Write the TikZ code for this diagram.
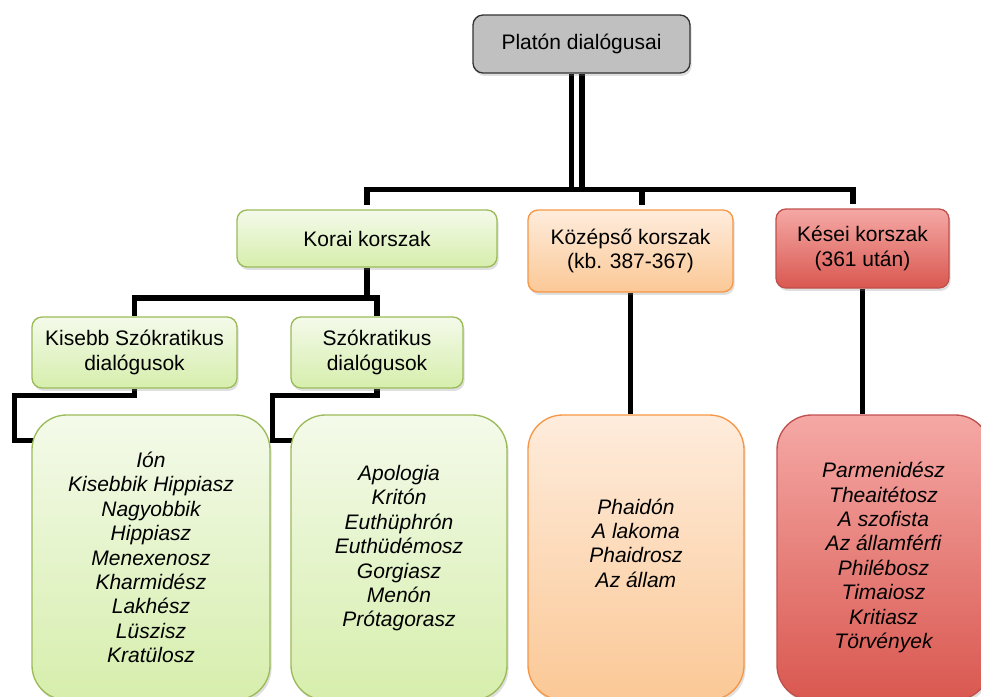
\documentclass[tikz,border=0pt]{standalone}
\usepackage{fontspec}
\setmainfont{Liberation Sans}
\usepackage{tikz}
\usetikzlibrary{calc, shadows, backgrounds}
\definecolor{platoGray}{RGB}{192,192,192}
\definecolor{koraiEdge}{RGB}{155,187,89}
\definecolor{koraiTop}{RGB}{244,250,234}
\definecolor{koraiBot}{RGB}{214,238,172}
\definecolor{kozepEdge}{RGB}{247,150,70}
\definecolor{kozepTop}{RGB}{254,236,220}
\definecolor{kozepBot}{RGB}{251,200,150}
\definecolor{keseiEdge}{RGB}{192,80,77}
\definecolor{keseiTop}{RGB}{245,168,165}
\definecolor{keseiBot}{RGB}{217,88,80}
\tikzset{
  conn/.style={line width=4.1pt, black},
  dblconn/.style={line width=4.2pt, double=white, double distance=3.6pt, black},
  hdbox/.style={rounded corners=7.5pt, line width=1pt, align=center, inner sep=2pt,
    font={\fontsize{15.75}{18.3}\selectfont},
    drop shadow={shadow xshift=1.2pt, shadow yshift=-2.2pt, opacity=0.25}},
  topbox/.style={hdbox, draw=black!80, fill=platoGray},
  korai/.style={hdbox, draw=koraiEdge, top color=koraiTop, bottom color=koraiBot},
  kozep/.style={hdbox, draw=kozepEdge, top color=kozepTop, bottom color=kozepBot},
  kesei/.style={hdbox, draw=keseiEdge, top color=keseiTop, bottom color=keseiBot},
  listbox/.style={rounded corners=26pt, minimum height=213.75pt},
  listtext/.style={align=center, inner sep=0pt, font={\fontsize{15.75}{18.3}\selectfont\itshape}}
}

\begin{document}
\begin{tikzpicture}[x=0.75pt, y=-0.75pt]
  \useasboundingbox (0,0) rectangle (981,696);
  \clip (0,0) rectangle (981,696);

  \node[topbox, minimum width=162.75pt, minimum height=43.5pt] (plato) at (581.5,44) {Platón dialógusai};

  \node[korai, minimum width=195pt, minimum height=42.75pt] (korai) at (367,238.5) {Korai korszak};
  \node[kozep, minimum width=153.75pt, minimum height=61.5pt] (kozep) at (630.5,251) {Középső korszak\\(kb. 387-367)};
  \node[kesei, minimum width=129.75pt, minimum height=59.25pt] (kesei) at (862.5,248.5) {Kései korszak\\(361 után)};

  \node[korai, minimum width=153.75pt, minimum height=53.25pt] (kisebb) at (134.5,352.5) {Kisebb Szókratikus\\dialógusok};
  \node[korai, minimum width=129pt, minimum height=53.25pt] (szokr) at (377,352.5) {Szókratikus\\dialógusok};

  \node[korai, listbox, minimum width=178.5pt] (korai1) at (151,557.5) {};
  \node[korai, listbox, minimum width=162pt] (korai2) at (399,557.5) {};
  \node[kozep, listbox, minimum width=162pt] (kozep1) at (636,557.5) {};
  \node[kesei, listbox, minimum width=159.75pt] (kesei1) at (883.5,557.5) {};

  \node[listtext] (korai1txt) at (korai1.center) {Ión\\Kisebbik Hippiasz\\Nagyobbik\\Hippiasz\\Menexenosz\\Kharmidész\\Lakhész\\Lüszisz\\Kratülosz};
  \node[listtext] (korai2txt) at ([yshift=7pt]korai2.center) {Apologia\\Kritón\\Euthüphrón\\Euthüdémosz\\Gorgiasz\\Menón\\Prótagorasz};
  \node[listtext] (kozep1txt) at ([yshift=10.9pt]kozep1.center) {Phaidón\\A lakoma\\Phaidrosz\\Az állam};
  \node[listtext] (kesei1txt) at (kesei1.center) {Parmenidész\\Theaitétosz\\A szofista\\Az államférfi\\Philébosz\\Timaiosz\\Kritiasz\\Törvények};

  \coordinate (bus) at (576.5,189.5);
  \coordinate (kbus) at (367,298);
  \coordinate (kozeptop) at ([xshift=8.6pt]kozep.north);
  \coordinate (keseitop) at ([xshift=-7.1pt]kesei.north);

  \begin{pgfonlayer}{background}
    \draw[dblconn] (plato.south -| bus) -- (bus);
    \draw[conn, shorten <=3.5pt, shorten >=3.5pt] (korai.north) |- (bus) -| (keseitop);
    \draw[conn, shorten >=3.5pt] (kozeptop |- bus) -- (kozeptop);
    \draw[conn] (kozep.south) -- (kozep.south |- kozep1.north);
    \draw[conn] (kesei.south) -- (kesei.south |- kesei1.north);
    \draw[conn] (korai.south) -- (kbus);
    \draw[conn] (kisebb.north) |- (kbus) -| (szokr.north);
    \draw[conn] (kisebb.south) -- ++(0,7) -| ([xshift=-12.75pt,yshift=-19.5pt]korai1.north west) -- ([xshift=3pt,yshift=-19.5pt]korai1.north west);
    \draw[conn] (szokr.south) -- ++(0,7) -| ([xshift=-13.5pt,yshift=-19.5pt]korai2.north west) -- ([xshift=3pt,yshift=-19.5pt]korai2.north west);
  \end{pgfonlayer}
\end{tikzpicture}
\end{document}
